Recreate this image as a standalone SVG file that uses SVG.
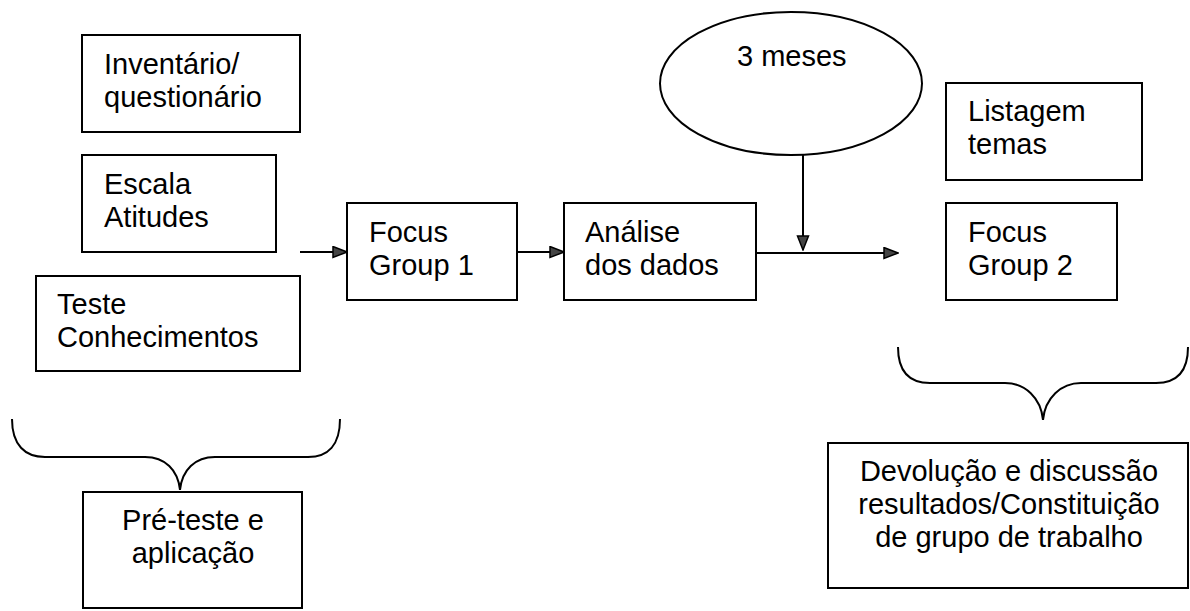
<svg xmlns="http://www.w3.org/2000/svg" width="1190" height="611" viewBox="0 0 1190 611">
<style>
.box{fill:#fff;stroke:#000;stroke-width:2}
.t{font-family:"Liberation Sans",Arial,sans-serif;font-size:29px;fill:#000}
.c{text-anchor:middle}
.ln{fill:none;stroke:#000;stroke-width:2}
</style>
<defs>
<marker id="ah" markerUnits="userSpaceOnUse" markerWidth="16" markerHeight="14" refX="15" refY="6.5" orient="auto">
<path d="M1,1 L15,6.5 L1,12 z" fill="#444" stroke="#000" stroke-width="1.5"/>
</marker>
</defs>
<rect width="1190" height="611" fill="#fff"/>
<g id="inventario">
<rect class="box" x="82" y="35" width="218" height="97"/>
<text class="t" x="104" y="74">Inventário/</text>
<text class="t" x="104" y="107">questionário</text>
</g>
<g id="escala">
<rect class="box" x="82" y="155" width="194" height="97"/>
<text class="t" x="104" y="194">Escala</text>
<text class="t" x="104" y="227">Atitudes</text>
</g>
<g id="teste">
<rect class="box" x="36" y="276" width="264" height="95"/>
<text class="t" x="57" y="314">Teste</text>
<text class="t" x="57" y="347">Conhecimentos</text>
</g>
<g id="focus1">
<rect class="box" x="347" y="203" width="170" height="97"/>
<text class="t" x="369" y="242">Focus</text>
<text class="t" x="369" y="275">Group 1</text>
</g>
<g id="analise">
<rect class="box" x="564" y="203" width="192" height="97"/>
<text class="t" x="585" y="242">Análise</text>
<text class="t" x="585" y="275">dos dados</text>
</g>
<g id="meses">
<ellipse class="ln" cx="791" cy="83.5" rx="131" ry="71.5"/>
<text class="t" x="737" y="66">3 meses</text>
</g>
<g id="listagem">
<rect class="box" x="946" y="83" width="196" height="97"/>
<text class="t" x="968" y="121">Listagem</text>
<text class="t" x="968" y="154">temas</text>
</g>
<g id="focus2">
<rect class="box" x="946" y="203" width="171" height="97"/>
<text class="t" x="968" y="242">Focus</text>
<text class="t" x="968" y="275">Group 2</text>
</g>
<g id="preteste">
<rect class="box" x="83" y="492" width="219" height="116"/>
<text class="t c" x="193" y="530">Pré-teste e</text>
<text class="t c" x="193" y="563">aplicação</text>
</g>
<g id="devolucao">
<rect class="box" x="828" y="443" width="360" height="145"/>
<text class="t c" x="1009" y="481">Devolução e discussão</text>
<text class="t c" x="1009" y="514">resultados/Constituição</text>
<text class="t c" x="1009" y="547">de grupo de trabalho</text>
</g>
<g id="connectors">
<line class="ln" x1="300" y1="252" x2="347" y2="252" marker-end="url(#ah)"/>
<line class="ln" x1="517" y1="252" x2="564" y2="252" marker-end="url(#ah)"/>
<line class="ln" x1="756" y1="253" x2="898" y2="253" marker-end="url(#ah)"/>
<line class="ln" x1="803" y1="155" x2="803" y2="250" marker-end="url(#ah)"/>
<path class="ln" d="M12,419 C12,445 25,457 45,457 L145,457 C165,457 178,470 180,490 C182,470 195,457 215,457 L308,457 C328,457 340,445 340,419"/>
<path class="ln" d="M898,347 C898,372 910,383 930,383 L1005,383 C1025,383 1041,398 1043,420 C1045,398 1061,383 1081,383 L1156,383 C1176,383 1188,372 1188,347"/>
</g>
</svg>
